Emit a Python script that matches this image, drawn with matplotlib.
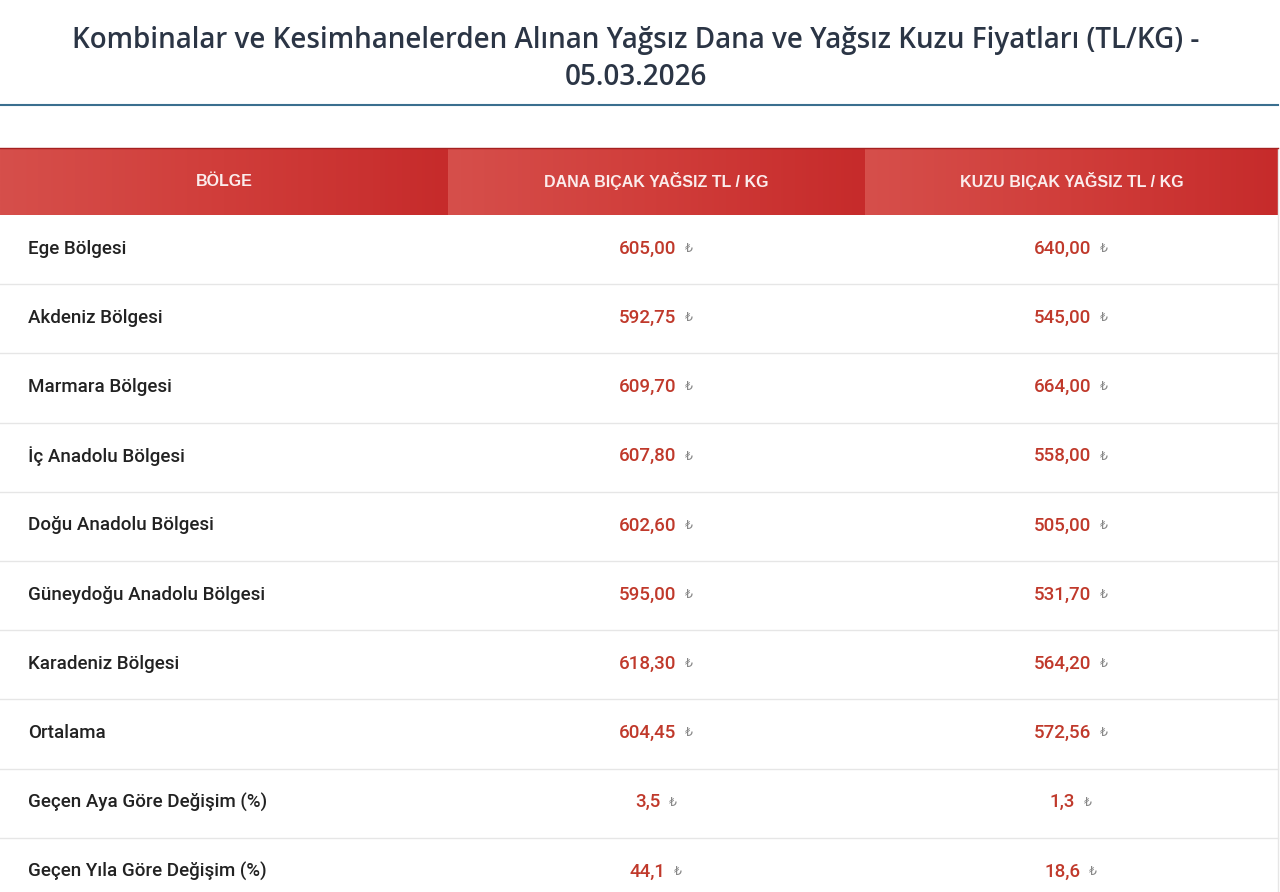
import matplotlib
matplotlib.use("Agg")
import matplotlib.pyplot as plt
import numpy as np
from matplotlib.colors import LinearSegmentedColormap

title = "Kombinalar ve Kesimhanelerden Alınan Yağsız Dana ve Yağsız Kuzu Fiyatları (TL/KG) -\n05.03.2026"
headers = ["BÖLGE", "DANA BIÇAK YAĞSIZ TL / KG", "KUZU BIÇAK YAĞSIZ TL / KG"]
regions = ["Ege Bölgesi", "Akdeniz Bölgesi", "Marmara Bölgesi", "İç Anadolu Bölgesi",
           "Doğu Anadolu Bölgesi", "Güneydoğu Anadolu Bölgesi", "Karadeniz Bölgesi",
           "Ortalama", "Geçen Aya Göre Değişim (%)", "Geçen Yıla Göre Değişim (%)"]
dana = ["605,00", "592,75", "609,70", "607,80", "602,60", "595,00", "618,30", "604,45", "3,5", "44,1"]
kuzu = ["640,00", "545,00", "664,00", "558,00", "505,00", "531,70", "564,20", "572,56", "1,3", "18,6"]

plt.rcParams['font.family'] = ['Open Sans', 'DejaVu Sans']
W, H = 1280, 892
fig = plt.figure(figsize=(12.8, 8.92), dpi=100)
ax = fig.add_axes([0, 0, 1, 1])
ax.set_xlim(0, W); ax.set_ylim(H, 0); ax.axis('off')

ax.text(636, 59, title, ha='center', va='center', fontsize=20, color='#2b3545',
        fontweight='semibold', linespacing=1.35)
ax.plot([0, 1278], [105, 105], color='#3a6f8f', lw=1.5)

cols = [(0, 448), (448, 865), (865, 1278)]
cmap = LinearSegmentedColormap.from_list('r', ['#d64f4b', '#d03d3a', '#c62b2b'])
grad = np.linspace(0, 1, 256).reshape(1, -1)
hy0, hy1 = 148, 215
for (x0, x1), h in zip(cols, headers):
    ax.imshow(grad, cmap=cmap, extent=[x0, x1, hy1, hy0], aspect='auto', zorder=1)
    ax.text((x0 + x1) / 2, (hy0 + hy1) / 2, h, ha='center', va='center', color='#fbecec',
            fontsize=11.5, fontweight='bold', zorder=2, family=['Liberation Sans', 'DejaVu Sans'])
ax.plot([0, 1278], [hy0, hy0], color='#a52020', lw=1, zorder=3)

rh = 69.2
for i, (r, d, k) in enumerate(zip(regions, dana, kuzu)):
    yc = hy1 + rh * (i + 0.5) - 1
    ax.text(28, yc, r, ha='left', va='center', fontsize=13.5, color='#222222',
            fontweight='medium', family=['Roboto', 'Liberation Sans', 'DejaVu Sans'])
    for (x0, x1), v in zip(cols[1:], [d, k]):
        cx = (x0 + x1) / 2
        t = ax.text(cx - 9, yc, v, ha='center', va='center', fontsize=13.5, color='#c0392b',
                    fontweight='medium', family=['Roboto', 'Liberation Sans', 'DejaVu Sans'])
        ax.annotate('₺', xy=(1, 0.5), xycoords=t, xytext=(6, 0), textcoords='offset points',
                    ha='left', va='center', fontsize=9, color='#888888', family=['DejaVu Sans'])
    if i < len(regions) - 1:
        ax.plot([0, 1278], [hy1 + rh * (i + 1)] * 2, color='#e6e6e6', lw=1)
ax.plot([1278, 1278], [hy0, H], color='#e6e6e6', lw=1)
ax.set_xlim(0, W); ax.set_ylim(H, 0)
fig.savefig('out.png', dpi=100)
